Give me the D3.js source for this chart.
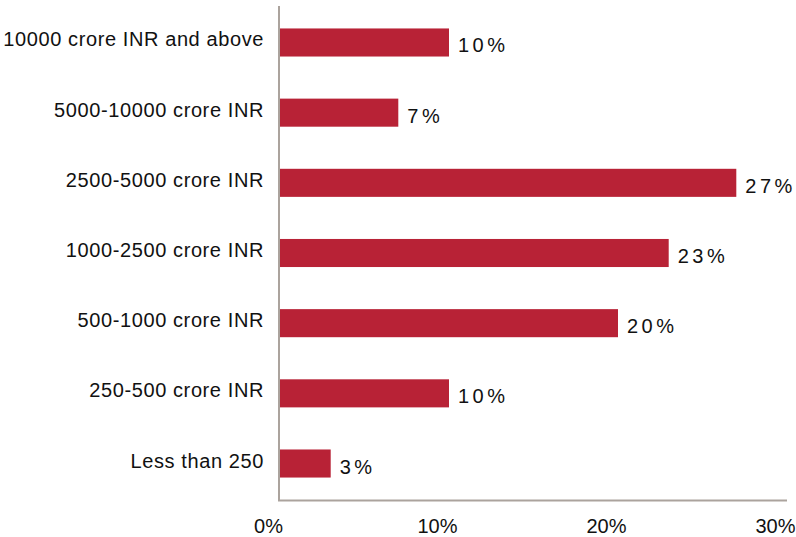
<!DOCTYPE html>
<html>
<head>
<meta charset="utf-8">
<script src="https://cdn.jsdelivr.net/npm/d3@7/dist/d3.min.js"></script>
<style>
  html, body { margin: 0; padding: 0; background: #ffffff; }
  svg { display: block; }
  text { font-family: "Liberation Sans", Arial, Helvetica, sans-serif; fill: #111111; }
</style>
</head>
<body>
<script>
// Share of companies by annual turnover band
const categories = [
  "10000 crore INR and above",
  "5000-10000 crore INR",
  "2500-5000 crore INR",
  "1000-2500 crore INR",
  "500-1000 crore INR",
  "250-500 crore INR",
  "Less than 250"
];
const values = [10, 7, 27, 23, 20, 10, 3];
const tickValues = [0, 10, 20, 30];
const tickLabels = ["0%", "10%", "20%", "30%"];

const width = 796, height = 537;
const barColor = "#b82236";
const axisColor = "#aba39d";
const fontStack = "\"Liberation Sans\", Arial, Helvetica, sans-serif";

const svg = d3.select("body").append("svg")
  .attr("width", width)
  .attr("height", height);

const x = d3.scaleLinear().domain([0, 30]).range([280, 787]);
const y = d3.scaleBand()
  .domain(categories)
  .range([6, 500])
  .paddingInner(0.6)
  .paddingOuter(0.32);

// Bars
svg.append("g").selectAll("rect")
  .data(values)
  .join("rect")
  .attr("x", x(0))
  .attr("y", (d, i) => y(categories[i]))
  .attr("width", d => x(d) - x(0))
  .attr("height", y.bandwidth())
  .attr("fill", barColor);

// Value labels
svg.append("g").selectAll("text")
  .data(values)
  .join("text")
  .attr("x", d => x(d) + 9)
  .attr("y", (d, i) => y(categories[i]) + y.bandwidth() / 2 + 10)
  .attr("font-size", 20)
  .attr("letter-spacing", "3.5px")
  .text(d => d + "%");

// Category axis (left)
const yAxis = svg.append("g")
  .attr("transform", "translate(279,0)")
  .call(d3.axisLeft(y).tickSize(0).tickPadding(15));
yAxis.select(".domain").remove();
yAxis.selectAll("text")
  .attr("font-size", 20)
  .attr("letter-spacing", "0.6px")
  .attr("dy", null)
  .attr("y", 4)
  .style("fill", "#111111")
  .style("font-family", fontStack);

// Value axis (bottom)
const xAxis = svg.append("g")
  .attr("transform", "translate(0,501)")
  .call(d3.axisBottom(x).tickValues(tickValues).tickFormat((d, i) => tickLabels[i]).tickSize(0));
xAxis.select(".domain").remove();
xAxis.selectAll("text")
  .attr("font-size", 20)
  .attr("dy", null)
  .attr("y", 32)
  .attr("dx", -12)
  .style("fill", "#111111")
  .style("font-family", fontStack);

// Axis lines
svg.append("line")
  .attr("x1", 279).attr("x2", 279)
  .attr("y1", 6).attr("y2", 501)
  .attr("stroke", axisColor).attr("stroke-width", 2);
svg.append("line")
  .attr("x1", 278).attr("x2", x(30))
  .attr("y1", 500.5).attr("y2", 500.5)
  .attr("stroke", axisColor).attr("stroke-width", 2);
</script>
</body>
</html>
